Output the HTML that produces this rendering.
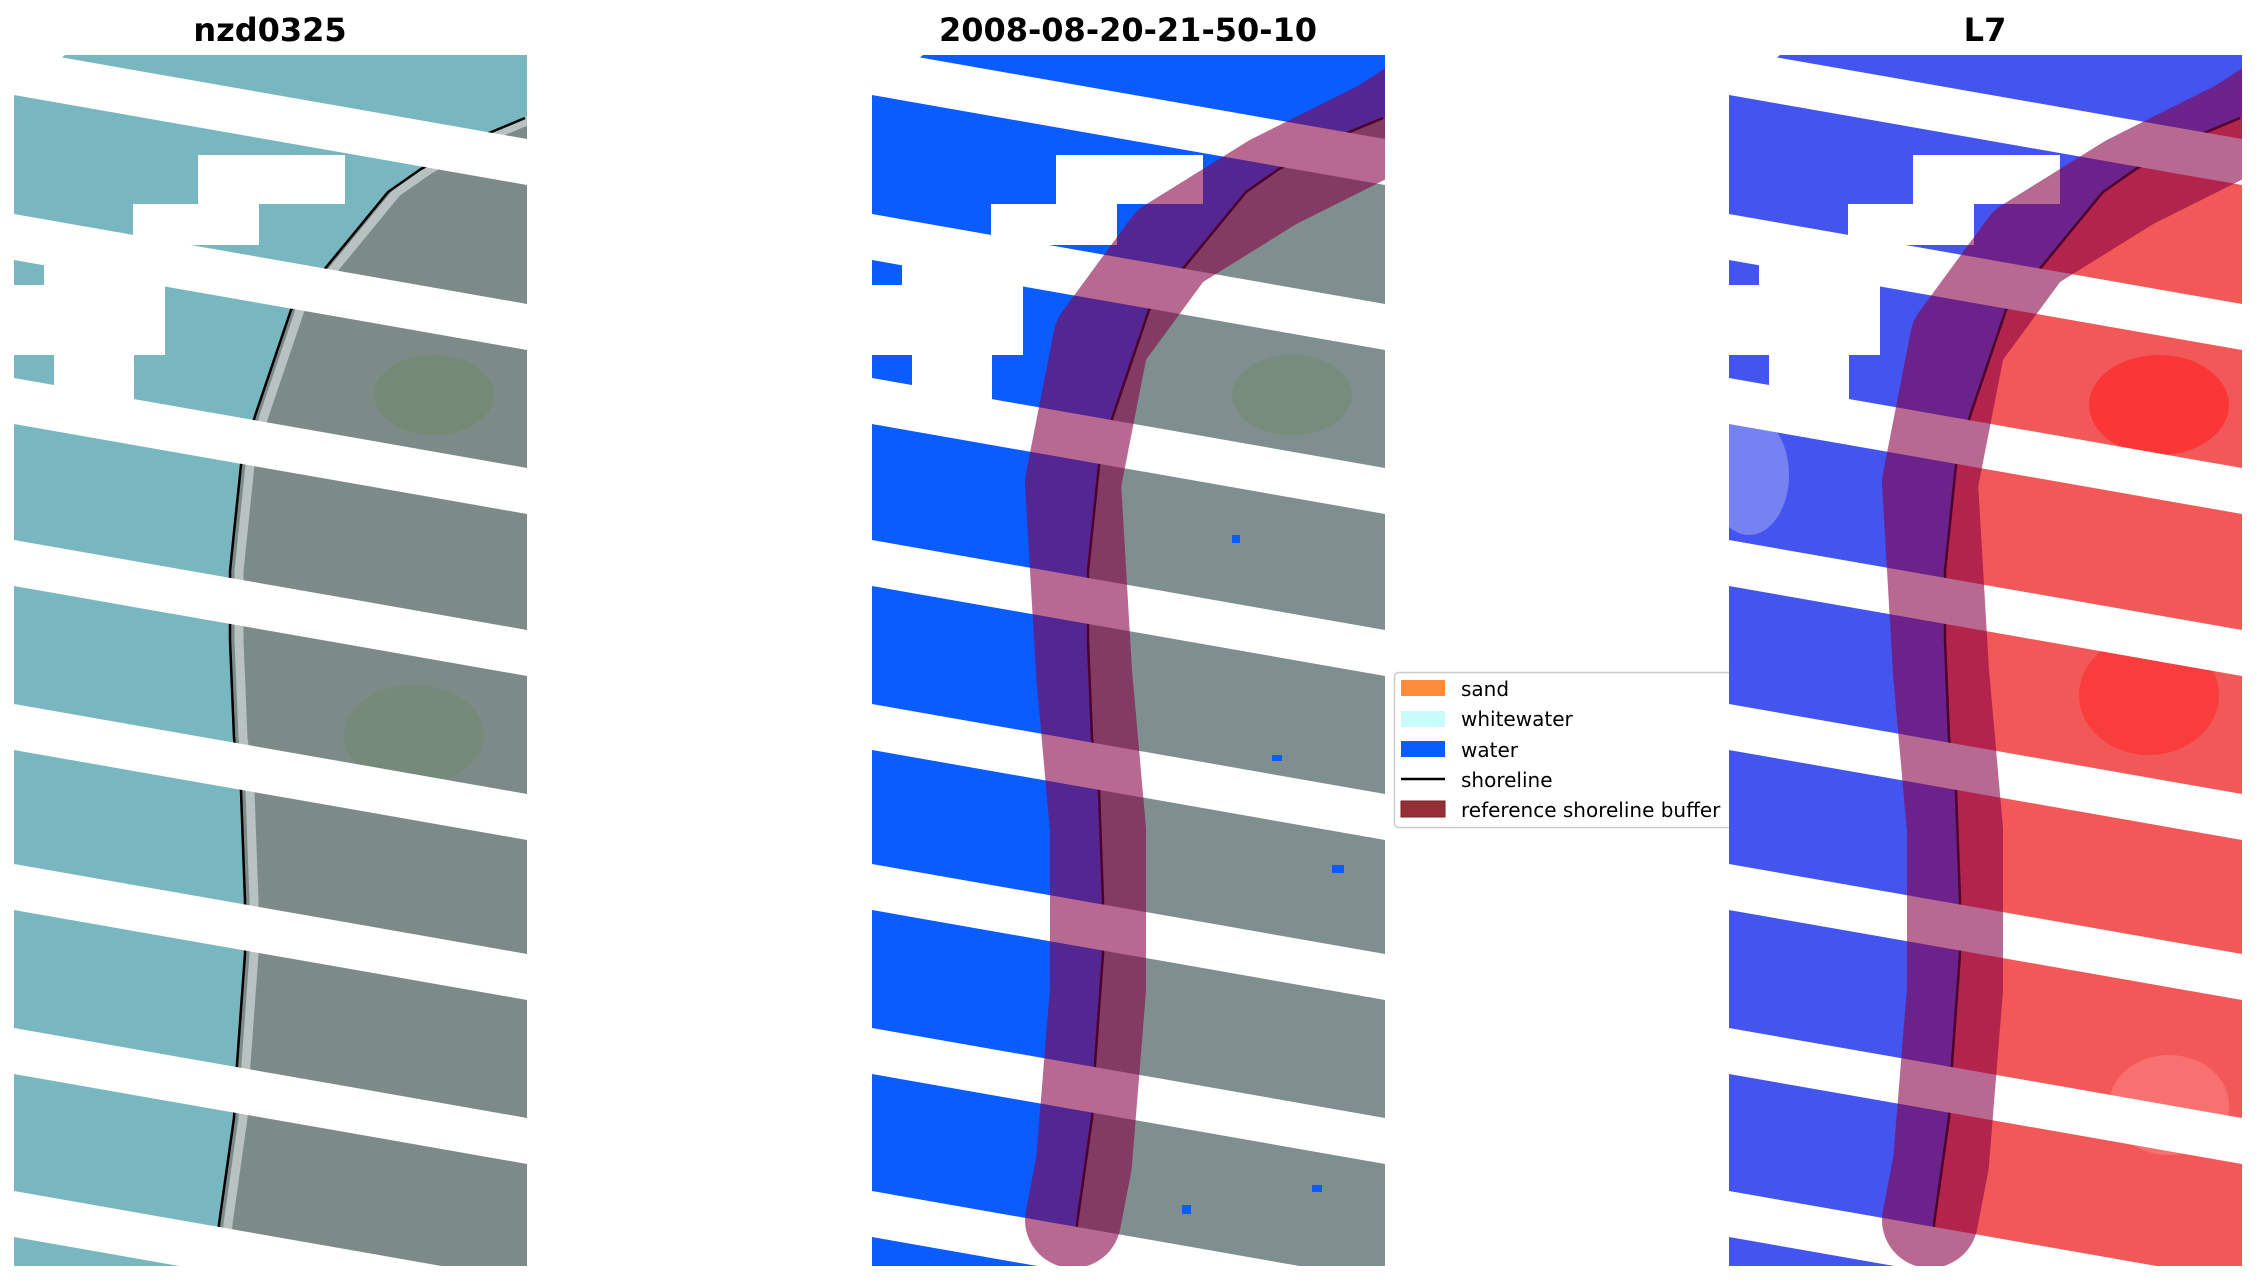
<!DOCTYPE html>
<html><head><meta charset="utf-8"><style>
html,body{margin:0;padding:0;background:#fff;}
svg{display:block;}
text{font-family:"DejaVu Sans","Liberation Sans",sans-serif;}
</style></head><body>
<svg width="2256" height="1283" viewBox="0 0 2256 1283" xmlns="http://www.w3.org/2000/svg">
<defs>
<clipPath id="cp"><rect x="0" y="0" width="513" height="1211"/></clipPath>
<path id="water" d="M0,0 L513,0 L513,63 L475,78 L407,114 L374,137 L277,255 L241,361 L227,410 L216,516 L216,585 L220,683 L227,736 L231,846 L231,899 L223,1009 L220,1063 L205,1169 L202,1211 L0,1211 Z"/>
<path id="shore" d="M511,63 L475,78 L407,114 L374,137 L277,255 L241,361 L227,410 L216,516 L216,585 L220,683 L227,736 L231,846 L231,899 L223,1009 L220,1063 L205,1169 L202,1211" fill="none"/>
<g id="gaps" fill="#fff">
<polygon points="0,-6 513,84 513,130 0,40"/>
<polygon points="0,159 513,249 513,295 0,205"/>
<polygon points="0,323 513,413 513,459 0,369"/>
<polygon points="0,485 513,575 513,621 0,531"/>
<polygon points="0,649 513,739 513,785 0,695"/>
<polygon points="0,809 513,899 513,945 0,855"/>
<polygon points="0,973 513,1063 513,1109 0,1019"/>
<polygon points="0,1136 513,1226 513,1272 0,1182"/>
<polygon points="0,0 51,0 0,40"/>
<polygon points="184,100 331,100 331,149 245,149 245,190 119,190 119,149 184,149"/>
<polygon points="30,206 151,206 151,300 120,300 120,353 40,353 40,300 0,300 0,230 30,230"/>
</g>
<path id="buf" d="M560,40 L511,72 L401,127 L298,191 L229,285 L201,428 L212,617 L226,775 L226,934 L212,1108 L201,1165" fill="none" stroke="rgb(135,0,70)" stroke-opacity="0.59" stroke-width="96" stroke-linecap="round" stroke-linejoin="round"/>
</defs>

<text x="270" y="41" font-size="32" font-weight="bold" text-anchor="middle">nzd0325</text>
<text x="1128" y="41" font-size="32" font-weight="bold" text-anchor="middle">2008-08-20-21-50-10</text>
<text x="1985" y="41" font-size="32" font-weight="bold" text-anchor="middle">L7</text>

<!-- panel 1 -->
<g transform="translate(14,55)" clip-path="url(#cp)">
<rect width="513" height="1211" fill="#7c8b88"/>
<ellipse cx="420" cy="340" rx="60" ry="40" fill="#6f8a6a" opacity="0.6"/>
<ellipse cx="400" cy="680" rx="70" ry="50" fill="#6f8a6a" opacity="0.5"/>
<use href="#water" fill="#78b7c0"/>
<use href="#shore" stroke="#b8c2c0" stroke-width="9" transform="translate(9,0)"/>
<use href="#shore" stroke="#000" stroke-width="2.5"/>
<use href="#gaps"/>
</g>

<!-- panel 2 -->
<g transform="translate(872,55)" clip-path="url(#cp)">
<rect width="513" height="1211" fill="#7f8e8e"/>
<ellipse cx="420" cy="340" rx="60" ry="40" fill="#6f8a6a" opacity="0.5"/>
<use href="#water" fill="#0a5cff"/>
<g fill="#0a5cff"><rect x="390" y="1080" width="12" height="8"/><rect x="440" y="1130" width="10" height="7"/><rect x="310" y="1150" width="9" height="9"/><rect x="460" y="810" width="12" height="8"/><rect x="400" y="700" width="10" height="6"/><rect x="360" y="480" width="8" height="8"/></g>
<use href="#shore" stroke="#000" stroke-width="2.5"/>
<use href="#gaps"/>
<use href="#buf"/>
</g>

<!-- legend -->
<rect x="1394.5" y="672.5" width="360" height="155" rx="4" fill="#fff" stroke="#ccc" stroke-width="1.5"/>
<rect x="1401" y="680" width="44" height="16" fill="#ff8c3a"/>
<rect x="1401" y="711" width="44" height="16" fill="#c8fcfc"/>
<rect x="1401" y="741" width="44" height="16" fill="#0a5cff"/>
<line x1="1401" y1="779" x2="1445" y2="779" stroke="#000" stroke-width="2.5"/>
<rect x="1401" y="801" width="44" height="16" fill="#962f35" stroke="#7a2028" stroke-width="1"/>
<g font-size="20" fill="#000">
<text x="1461" y="696">sand</text>
<text x="1461" y="726">whitewater</text>
<text x="1461" y="757">water</text>
<text x="1461" y="787">shoreline</text>
<text x="1461" y="817">reference shoreline buffer</text>
</g>

<!-- panel 3 -->
<rect x="1729" y="55" width="513" height="1211" fill="#fff"/>
<g transform="translate(1729,55)" clip-path="url(#cp)">
<rect width="513" height="1211" fill="#f25858"/>
<ellipse cx="430" cy="350" rx="70" ry="50" fill="#ff2020" opacity="0.6"/>
<ellipse cx="420" cy="640" rx="70" ry="60" fill="#ff2020" opacity="0.5"/>
<ellipse cx="440" cy="1050" rx="60" ry="50" fill="#f88" opacity="0.5"/>
<use href="#water" fill="#4454ee"/>
<ellipse cx="20" cy="420" rx="40" ry="60" fill="#aab0f5" opacity="0.5"/>
<use href="#shore" stroke="#000" stroke-width="2.5"/>
<use href="#gaps"/>
<use href="#buf"/>
</g>
</svg>
</body></html>
